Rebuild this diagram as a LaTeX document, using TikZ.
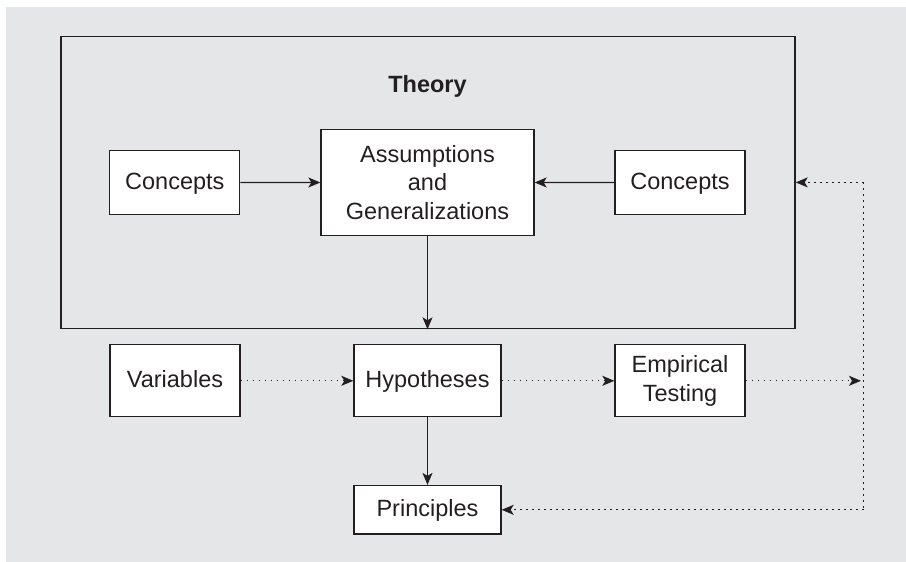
\documentclass[tikz,border=0pt]{standalone}
\usepackage{fontspec}
\setmainfont{Liberation Sans}
\usetikzlibrary{arrows.meta}
\definecolor{bggray}{HTML}{E5E6E8}
\definecolor{ink}{HTML}{231F20}
\tikzset{
  box/.style={draw=ink, fill=white, line width=1.3pt, align=center, inner sep=0pt,
    font=\fontsize{23.5}{28.5}\selectfont, text=ink},
  oneline/.style={text height=17pt, text depth=3.5pt},
  solidarrow/.style={draw=ink, line width=1.2pt, -{Stealth[length=12pt,width=10pt,inset=3pt]}},
  dotline/.style={draw=ink, line width=1.2pt, dash pattern=on 1.2pt off 4.8pt},
  dotarrow/.style={dotline, -{Stealth[length=12pt,width=10pt,inset=3pt]}},
}
\begin{document}
\begin{tikzpicture}[x=1pt,y=-1pt]
\useasboundingbox (0,0) rectangle (906,562);
\fill[bggray] (6,7) rectangle (906,562);
\node[draw=ink, line width=1.6pt, minimum width=734pt, minimum height=292pt, inner sep=0pt] (theory) at (427.9,182.5) {};
\node[font=\bfseries\fontsize{23.5}{28}\selectfont, text=ink] (tlabel) at (427.5,86) {Theory};
\node[box, oneline, minimum width=130pt, minimum height=64pt] (c1) at (174.8,182.4) {Concepts};
\node[box, minimum width=213pt, minimum height=106pt] (ag) at (427.5,182.5) {Assumptions\\and\\Generalizations};
\node[box, oneline, minimum width=130pt, minimum height=64pt] (c2) at (680,182.4) {Concepts};
\node[box, oneline, minimum width=130pt, minimum height=72pt] (var) at (175,380.8) {Variables};
\node[box, oneline, minimum width=147pt, minimum height=72pt] (hyp) at (427.5,380.8) {Hypotheses};
\node[box, minimum width=130pt, minimum height=72pt] (emp) at (680,380.8) {Empirical\\Testing};
\node[box, oneline, minimum width=147pt, minimum height=48.5pt] (pri) at (427.5,509.8) {Principles};
\coordinate (ve) at (861,380.8);
\coordinate (vt) at (863.5,182.4);
\coordinate (vb) at (863.5,509.8);
\draw[solidarrow] (c1.east) -- (ag.west);
\draw[solidarrow] (c2.west) -- (ag.east);
\draw[solidarrow] (ag.south) -- (ag.south |- theory.south);
\draw[solidarrow] (hyp.south) -- (pri.north);
\draw[dotarrow] (var.east) -- (hyp.west);
\draw[dotarrow] (hyp.east) -- (emp.west);
\draw[dotarrow] (emp.east) -- (ve);
\draw[dotline] (vt) -- (vb);
\draw[dotarrow] (vt) -- (theory.east |- vt);
\draw[dotarrow] (vb) -- (pri.east);
\end{tikzpicture}
\end{document}
